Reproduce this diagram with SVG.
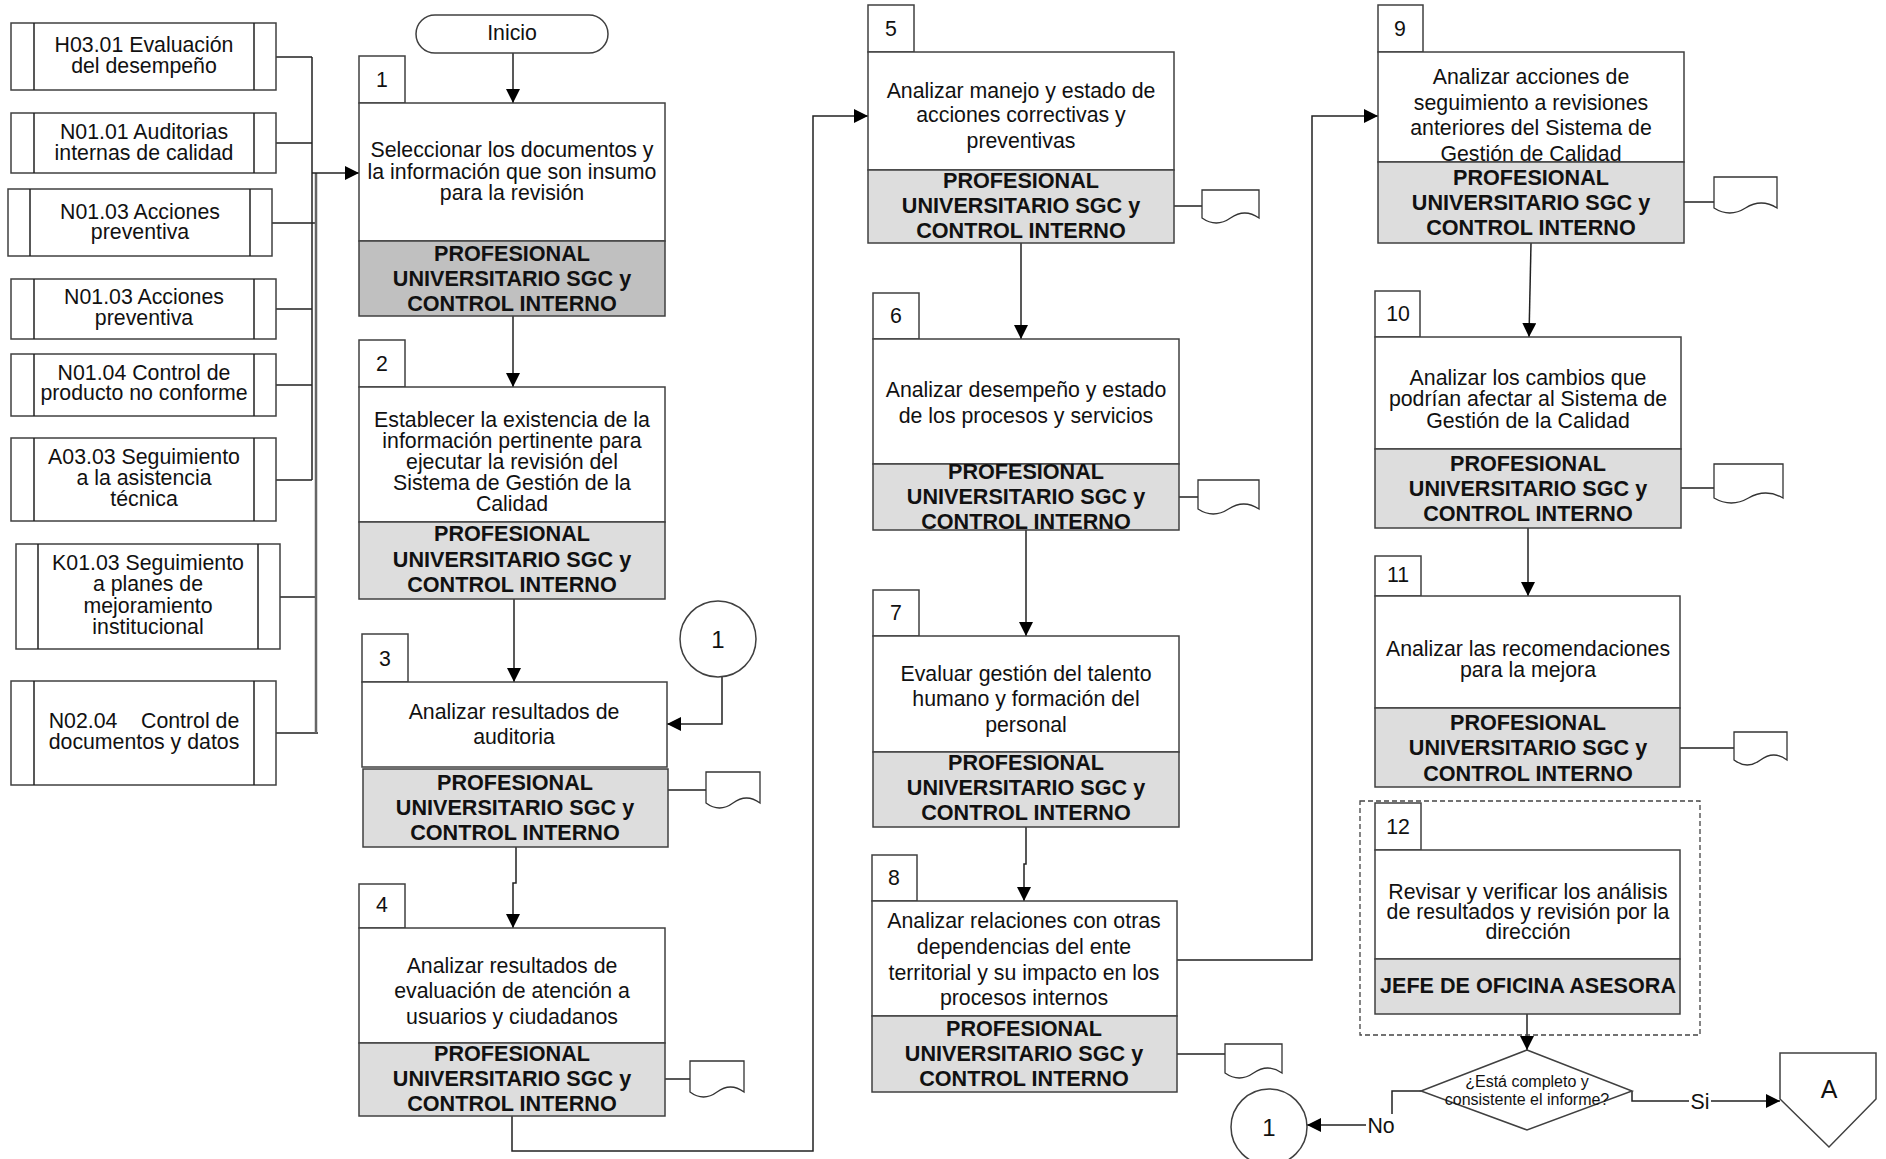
<svg xmlns="http://www.w3.org/2000/svg" width="1886" height="1159" viewBox="0 0 1886 1159">
<style>
.bx{fill:#fff;stroke:#404040;stroke-width:1.5}
.rl{fill:#dddddd;stroke:#404040;stroke-width:1.5}
.rl1{fill:#c0c0c0;stroke:#404040;stroke-width:1.5}
.t{font-family:"Liberation Sans",Arial,sans-serif;font-size:21.3px;text-anchor:middle;fill:#111}
.b{font-weight:bold;font-size:21.6px}
.ln{fill:none;stroke:#222;stroke-width:1.5}
.ln2{fill:none;stroke:#666;stroke-width:2.5}
.doc{fill:#fff;stroke:#333;stroke-width:1.3}
.ar{marker-end:url(#ah)}
.dash{fill:none;stroke:#444;stroke-width:1.3;stroke-dasharray:5,3}
</style>
<defs>
<marker id="ah" viewBox="0 0 14 14" refX="14" refY="7" markerWidth="14" markerHeight="14" markerUnits="userSpaceOnUse" orient="auto">
<path d="M0,0 L14,7 L0,14 Z" fill="#000"/>
</marker>
</defs>
<rect width="1886" height="1159" fill="#fff"/>

<g id="connectors">
<path class="ln" d="M276,57 H312 M276,143 H312 M276,309 H312 M276,385 H312 M276,480 H312 M312,57 V480"/>
<path class="ln" d="M272,223 H316 M280,597 H316 M276,733 H318"/>
<path class="ln2" d="M316,173 V733"/>
<path class="ln ar" d="M312,173 H359"/>
<path class="ln ar" d="M513,53 V103"/>
<path class="ln ar" d="M513,316 V387"/>
<path class="ln ar" d="M514,599 V682"/>
<path class="ln ar" d="M722,677 V724 H667"/>
<path class="ln ar" d="M516,847 V883 H513 V928"/>
<path class="ln ar" d="M512,1116 V1151 H813 V116 H868"/>
<path class="ln ar" d="M1021,243 V339"/>
<path class="ln ar" d="M1026,530 V636"/>
<path class="ln ar" d="M1026,827 V864 H1024 V901"/>
<path class="ln ar" d="M1177,960 H1312 V116 H1378"/>
<path class="ln ar" d="M1531,243 L1529,337"/>
<path class="ln ar" d="M1528,528 V596"/>
<path class="ln ar" d="M1527,1014 V1050"/>
<path class="ln ar" d="M1421,1091 H1392 V1125 H1307"/>
<path class="ln ar" d="M1632,1091 V1101 H1780"/>
<path class="ln" d="M668,790 H706 M665,1079 H690 M1174,206 H1202 M1179,497 H1198 M1177,1054 H1225 M1684,202 H1714 M1681,488 H1714 M1680,748 H1734"/>
<rect x="1366" y="1114" width="31" height="22" fill="#fff"/>
<text class="t" x="1381" y="1133">No</text>
<rect x="1689" y="1090" width="22" height="22" fill="#fff"/>
<text class="t" x="1700" y="1109">Si</text>
</g>

<g id="in1"><rect class="bx" x="11" y="23" width="265" height="67"/><path class="ln" d="M34,23 V90 M254,23 V90"/><text class="t"><tspan x="144" y="52">H03.01 Evaluación</tspan><tspan x="144" y="73">del desempeño</tspan></text></g>
<g id="in2"><rect class="bx" x="11" y="113" width="265" height="60"/><path class="ln" d="M34,113 V173 M254,113 V173"/><text class="t"><tspan x="144" y="139">N01.01 Auditorias</tspan><tspan x="144" y="160">internas de calidad</tspan></text></g>
<g id="in3"><rect class="bx" x="8" y="189" width="264" height="67"/><path class="ln" d="M30,189 V256 M250,189 V256"/><text class="t"><tspan x="140" y="219">N01.03 Acciones</tspan><tspan x="140" y="239">preventiva</tspan></text></g>
<g id="in4"><rect class="bx" x="11" y="279" width="265" height="60"/><path class="ln" d="M34,279 V339 M254,279 V339"/><text class="t"><tspan x="144" y="304">N01.03 Acciones</tspan><tspan x="144" y="325">preventiva</tspan></text></g>
<g id="in5"><rect class="bx" x="11" y="354" width="265" height="62"/><path class="ln" d="M34,354 V416 M254,354 V416"/><text class="t"><tspan x="144" y="380">N01.04 Control de</tspan><tspan x="144" y="400">producto no conforme</tspan></text></g>
<g id="in6"><rect class="bx" x="11" y="438" width="265" height="83"/><path class="ln" d="M34,438 V521 M254,438 V521"/><text class="t"><tspan x="144" y="464">A03.03 Seguimiento</tspan><tspan x="144" y="485">a la asistencia</tspan><tspan x="144" y="506">técnica</tspan></text></g>
<g id="in7"><rect class="bx" x="16" y="544" width="264" height="105"/><path class="ln" d="M38,544 V649 M258,544 V649"/><text class="t"><tspan x="148" y="570">K01.03 Seguimiento</tspan><tspan x="148" y="591">a planes de</tspan><tspan x="148" y="613">mejoramiento</tspan><tspan x="148" y="634">institucional</tspan></text></g>
<g id="in8"><rect class="bx" x="11" y="681" width="265" height="104"/><path class="ln" d="M34,681 V785 M254,681 V785"/><text class="t" xml:space="preserve" style="white-space:pre"><tspan x="144" y="728">N02.04    Control de</tspan><tspan x="144" y="749">documentos y datos</tspan></text></g>

<g id="inicio"><rect class="bx" x="416" y="15" width="192" height="38" rx="19"/><text class="t" x="512" y="40">Inicio</text></g>

<g id="s1"><rect class="bx" x="359" y="56" width="46" height="47"/><text class="t" x="382" y="87">1</text><rect class="bx" x="359" y="103" width="306" height="138"/><rect class="rl1" x="359" y="241" width="306" height="75"/>
<text class="t"><tspan x="512" y="157">Seleccionar los documentos y</tspan><tspan x="512" y="179">la información que son insumo</tspan><tspan x="512" y="200">para la revisión</tspan></text>
<text class="t b"><tspan x="512" y="261">PROFESIONAL</tspan><tspan x="512" y="286">UNIVERSITARIO SGC y</tspan><tspan x="512" y="311">CONTROL INTERNO</tspan></text></g>

<g id="s2"><rect class="bx" x="359" y="340" width="46" height="47"/><text class="t" x="382" y="371">2</text><rect class="bx" x="359" y="387" width="306" height="135"/><rect class="rl" x="359" y="522" width="306" height="77"/>
<text class="t"><tspan x="512" y="427">Establecer la existencia de la</tspan><tspan x="512" y="448">información pertinente para</tspan><tspan x="512" y="469">ejecutar la revisión del</tspan><tspan x="512" y="490">Sistema de Gestión de la</tspan><tspan x="512" y="511">Calidad</tspan></text>
<text class="t b"><tspan x="512" y="541">PROFESIONAL</tspan><tspan x="512" y="567">UNIVERSITARIO SGC y</tspan><tspan x="512" y="592">CONTROL INTERNO</tspan></text></g>

<g id="c1top"><circle class="bx" cx="718" cy="639" r="38"/><text class="t" x="718" y="648" style="font-size:24px">1</text></g>

<g id="s3"><rect class="bx" x="362" y="634" width="46" height="48"/><text class="t" x="385" y="666">3</text><rect class="bx" x="362" y="682" width="305" height="85"/><rect class="rl" x="363" y="769" width="305" height="78"/>
<text class="t"><tspan x="514" y="719">Analizar resultados de</tspan><tspan x="514" y="744">auditoria</tspan></text>
<text class="t b"><tspan x="515" y="790">PROFESIONAL</tspan><tspan x="515" y="815">UNIVERSITARIO SGC y</tspan><tspan x="515" y="840">CONTROL INTERNO</tspan></text>
<path class="doc" d="M706,772 H760 V803 Q746.5,793 733,803 T706,803 Z"/></g>

<g id="s4"><rect class="bx" x="359" y="884" width="46" height="44"/><text class="t" x="382" y="912">4</text><rect class="bx" x="359" y="928" width="306" height="115"/><rect class="rl" x="359" y="1043" width="306" height="73"/>
<text class="t"><tspan x="512" y="973">Analizar resultados de</tspan><tspan x="512" y="998">evaluación de atención a</tspan><tspan x="512" y="1024">usuarios y ciudadanos</tspan></text>
<text class="t b"><tspan x="512" y="1061">PROFESIONAL</tspan><tspan x="512" y="1086">UNIVERSITARIO SGC y</tspan><tspan x="512" y="1111">CONTROL INTERNO</tspan></text>
<path class="doc" d="M690,1061 H744 V1092 Q730.5,1082 717,1092 T690,1092 Z"/></g>

<g id="s5"><rect class="bx" x="868" y="5" width="46" height="47"/><text class="t" x="891" y="36">5</text><rect class="bx" x="868" y="52" width="306" height="118"/><rect class="rl" x="868" y="170" width="306" height="73"/>
<text class="t"><tspan x="1021" y="98">Analizar manejo y estado de</tspan><tspan x="1021" y="122">acciones correctivas y</tspan><tspan x="1021" y="148">preventivas</tspan></text>
<text class="t b"><tspan x="1021" y="188">PROFESIONAL</tspan><tspan x="1021" y="213">UNIVERSITARIO SGC y</tspan><tspan x="1021" y="238">CONTROL INTERNO</tspan></text>
<path class="doc" d="M1202,190 H1259 V218 Q1244.75,208 1230.5,218 T1202,218 Z"/></g>

<g id="s6"><rect class="bx" x="873" y="293" width="46" height="46"/><text class="t" x="896" y="323">6</text><rect class="bx" x="873" y="339" width="306" height="125"/><rect class="rl" x="873" y="464" width="306" height="66"/>
<text class="t"><tspan x="1026" y="397">Analizar desempeño y estado</tspan><tspan x="1026" y="423">de los procesos y servicios</tspan></text>
<text class="t b"><tspan x="1026" y="479">PROFESIONAL</tspan><tspan x="1026" y="504">UNIVERSITARIO SGC y</tspan><tspan x="1026" y="529">CONTROL INTERNO</tspan></text>
<path class="doc" d="M1198,480 H1259 V509 Q1243.75,499 1228.5,509 T1198,509 Z"/></g>

<g id="s7"><rect class="bx" x="873" y="590" width="46" height="46"/><text class="t" x="896" y="620">7</text><rect class="bx" x="873" y="636" width="306" height="116"/><rect class="rl" x="873" y="752" width="306" height="75"/>
<text class="t"><tspan x="1026" y="681">Evaluar gestión del talento</tspan><tspan x="1026" y="706">humano y formación del</tspan><tspan x="1026" y="732">personal</tspan></text>
<text class="t b"><tspan x="1026" y="770">PROFESIONAL</tspan><tspan x="1026" y="795">UNIVERSITARIO SGC y</tspan><tspan x="1026" y="820">CONTROL INTERNO</tspan></text></g>

<g id="s8"><rect class="bx" x="872" y="855" width="45" height="46"/><text class="t" x="894" y="885">8</text><rect class="bx" x="872" y="901" width="305" height="115"/><rect class="rl" x="872" y="1016" width="305" height="76"/>
<text class="t"><tspan x="1024" y="928">Analizar relaciones con otras</tspan><tspan x="1024" y="954">dependencias del ente</tspan><tspan x="1024" y="980">territorial y su impacto en los</tspan><tspan x="1024" y="1005">procesos internos</tspan></text>
<text class="t b"><tspan x="1024" y="1036">PROFESIONAL</tspan><tspan x="1024" y="1061">UNIVERSITARIO SGC y</tspan><tspan x="1024" y="1086">CONTROL INTERNO</tspan></text>
<path class="doc" d="M1225,1044 H1282 V1073 Q1267.75,1063 1253.5,1073 T1225,1073 Z"/></g>

<g id="s9"><rect class="bx" x="1378" y="5" width="45" height="47"/><text class="t" x="1400" y="36">9</text><rect class="bx" x="1378" y="52" width="306" height="110"/>
<text class="t"><tspan x="1531" y="84">Analizar acciones de</tspan><tspan x="1531" y="110">seguimiento a revisiones</tspan><tspan x="1531" y="135">anteriores del Sistema de</tspan><tspan x="1531" y="161">Gestión de Calidad</tspan></text>
<rect class="rl" x="1378" y="162" width="306" height="81"/>
<text class="t b"><tspan x="1531" y="185">PROFESIONAL</tspan><tspan x="1531" y="210">UNIVERSITARIO SGC y</tspan><tspan x="1531" y="235">CONTROL INTERNO</tspan></text>
<path class="doc" d="M1714,177 H1777 V208 Q1761.25,198 1745.5,208 T1714,208 Z"/></g>

<g id="s10"><rect class="bx" x="1375" y="291" width="45" height="46"/><text class="t" x="1398" y="321">10</text><rect class="bx" x="1375" y="337" width="306" height="112"/><rect class="rl" x="1375" y="449" width="306" height="79"/>
<text class="t"><tspan x="1528" y="385">Analizar los cambios que</tspan><tspan x="1528" y="406">podrían afectar al Sistema de</tspan><tspan x="1528" y="428">Gestión de la Calidad</tspan></text>
<text class="t b"><tspan x="1528" y="471">PROFESIONAL</tspan><tspan x="1528" y="496">UNIVERSITARIO SGC y</tspan><tspan x="1528" y="521">CONTROL INTERNO</tspan></text>
<path class="doc" d="M1714,464 H1783 V498 Q1765.75,488 1748.5,498 T1714,498 Z"/></g>

<g id="s11"><rect class="bx" x="1375" y="556" width="46" height="40"/><text class="t" x="1398" y="582">11</text><rect class="bx" x="1375" y="596" width="305" height="112"/><rect class="rl" x="1375" y="708" width="305" height="79"/>
<text class="t"><tspan x="1528" y="656">Analizar las recomendaciones</tspan><tspan x="1528" y="677">para la mejora</tspan></text>
<text class="t b"><tspan x="1528" y="730">PROFESIONAL</tspan><tspan x="1528" y="755">UNIVERSITARIO SGC y</tspan><tspan x="1528" y="781">CONTROL INTERNO</tspan></text>
<path class="doc" d="M1734,732 H1787 V760 Q1773.75,750 1760.5,760 T1734,760 Z"/></g>

<g id="s12"><rect class="dash" x="1360" y="801" width="340" height="234"/><rect class="bx" x="1375" y="803" width="46" height="47"/><text class="t" x="1398" y="834">12</text><rect class="bx" x="1375" y="850" width="305" height="109"/><rect class="rl" x="1375" y="959" width="305" height="55"/>
<text class="t"><tspan x="1528" y="899">Revisar y verificar los análisis</tspan><tspan x="1528" y="919">de resultados y revisión por la</tspan><tspan x="1528" y="939">dirección</tspan></text>
<text class="t b" x="1528" y="993">JEFE DE OFICINA ASESORA</text></g>

<g id="decision"><path class="bx" d="M1527,1050 L1632,1091 L1527,1130 L1421,1091 Z"/>
<text class="t" style="font-size:16px"><tspan x="1527" y="1087">¿Está completo y</tspan><tspan x="1527" y="1105">consistente el informe?</tspan></text></g>

<g id="c1bot"><circle class="bx" cx="1269" cy="1127" r="38"/><text class="t" x="1269" y="1136" style="font-size:24px">1</text></g>

<g id="offA"><path class="bx" d="M1780,1053 H1876 V1099 L1829,1147 L1780,1099 Z"/><text class="t" x="1829" y="1098" style="font-size:25px">A</text></g>
</svg>
